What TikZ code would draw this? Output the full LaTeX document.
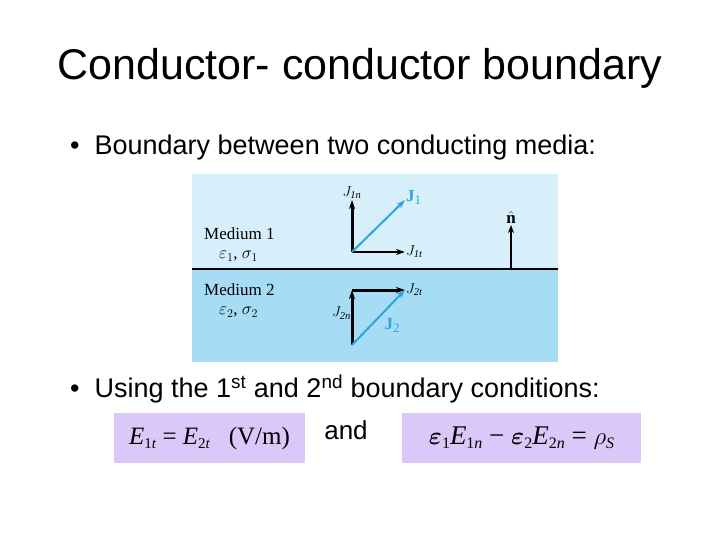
\documentclass[tikz,border=0pt]{standalone}
\usepackage{fontspec}
\setmainfont{Liberation Sans}
\newfontfamily\serif{Liberation Serif}
\usepackage{amsmath}
\usetikzlibrary{arrows.meta}
\definecolor{upper}{HTML}{D6EFFA}
\definecolor{lower}{HTML}{A6DDF4}
\definecolor{jblue}{HTML}{2AA6DF}
\definecolor{lav}{HTML}{DCC8F8}
\tikzset{vec/.style={-{Stealth[length=9pt,width=6pt]},line width=3pt},
bvec/.style={-{Stealth[length=9pt,width=6pt]},line width=2pt,jblue},
lbl/.style={font=\serif\fontsize{15}{16}\selectfont\itshape,inner sep=1pt},
med/.style={font=\serif\fontsize{17}{18}\selectfont,anchor=west,inner sep=0pt},
eq/.style={fill=lav,inner sep=0pt,minimum height=50pt}}
\begin{document}
\begin{tikzpicture}[x=1pt,y=-1pt]
\useasboundingbox (0,0) rectangle (720,540);
\node (title) at (360,68) {\fontsize{43}{48}\selectfont Conductor- conductor boundary};
\node[anchor=west,inner sep=0pt] (b1) at (70,148) {\fontsize{27}{30}\selectfont •\ \ Boundary between two conducting media:};
\fill[upper] (192,174) rectangle (558,269);
\fill[lower] (192,269) rectangle (558,362);
\draw[line width=2pt] (192,269) -- (558,269);
\coordinate (o1) at (352,252);
\coordinate (n1) at (352,200);
\coordinate (t1) at (405,252);
\coordinate (j1) at (405,200);
\draw[vec] (o1) -- (n1);
\draw[vec,line width=2pt] (o1) -- (t1);
\draw[bvec] (o1) -- (j1);
\node[lbl,above] at (n1) {$J_{\text{1n}}$};
\node[lbl,right] at (t1) {$J_{\text{1t}}$};
\node[right,text=jblue,inner sep=1pt] at (405,197) {\serif\bfseries\fontsize{17}{17}\selectfont J\textmd{\fontsize{13}{13}\selectfont\raisebox{-3pt}{1}}};
\coordinate (o2) at (352,345);
\coordinate (n2) at (352,290);
\coordinate (t2) at (405,290);
\coordinate (b2) at (352,290);
\draw[vec] (o2) -- (n2);
\draw[vec] (b2) -- (t2);
\draw[bvec] (o2) -- (t2);
\node[lbl,right] at (t2) {$J_{\text{2t}}$};
\node[lbl,left] at (352,313) {$J_{\text{2n}}$};
\node[text=jblue,inner sep=1pt] at (392,325) {\serif\bfseries\fontsize{17}{17}\selectfont J\textmd{\fontsize{13}{13}\selectfont\raisebox{-3pt}{2}}};
\coordinate (nb) at (511,269);
\coordinate (nt) at (511,225);
\draw[-{Stealth[length=8pt,width=6pt]},line width=2pt] (nb) -- (nt);
\node[above,inner sep=1pt] at (nt) {\serif\bfseries\fontsize{17}{17}\selectfont $\hat{\text{n}}$};
\node[med] (m1) at (204,234) {Medium 1};
\node[med] (e1) at (219,256) {$\varepsilon_1$, $\sigma_1$};
\node[med] (m2) at (204,290) {Medium 2};
\node[med] (e2) at (219,312) {$\varepsilon_2$, $\sigma_2$};
\node[anchor=west,inner sep=0pt] (b2t) at (70,389) {\fontsize{27}{30}\selectfont •\ \ Using the 1\textsuperscript{st} and 2\textsuperscript{nd} boundary conditions:};
\node[eq,minimum width=191pt] (q1) at (209.5,438) {\serif\fontsize{25}{27}\selectfont \textit{E}\raisebox{-4pt}{\fontsize{15}{15}\selectfont 1\textit{t}} = \textit{E}\raisebox{-4pt}{\fontsize{15}{15}\selectfont 2\textit{t}}\ \ \ (V/m)};
\node (and) at (346,430) {\fontsize{26}{28}\selectfont and};
\node[eq,minimum width=239pt] (q2) at (521.5,438) {\serif\fontsize{27}{29}\selectfont $\boldsymbol{\varepsilon}$\raisebox{-4pt}{\fontsize{16}{16}\selectfont 1}\textit{E}\raisebox{-4pt}{\fontsize{16}{16}\selectfont 1\textit{n}} − $\boldsymbol{\varepsilon}$\raisebox{-4pt}{\fontsize{16}{16}\selectfont 2}\textit{E}\raisebox{-4pt}{\fontsize{16}{16}\selectfont 2\textit{n}} = $\rho$\raisebox{-4pt}{\fontsize{16}{16}\selectfont\textit{S}}};
\end{tikzpicture}
\end{document}
